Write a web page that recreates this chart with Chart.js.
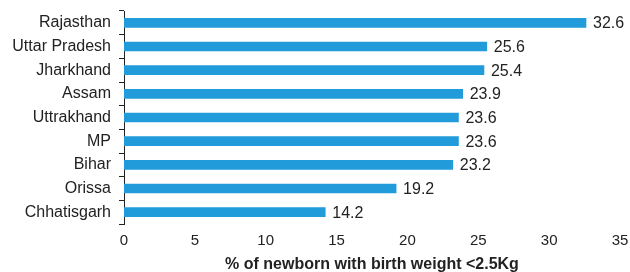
<!DOCTYPE html>
<html>
<head>
<meta charset="utf-8">
<script src="https://cdn.jsdelivr.net/npm/chart.js@4/dist/chart.umd.min.js"></script>
<style>
  html, body { margin: 0; padding: 0; background: #fff; }
  #wrap { width: 630px; height: 272px; }
</style>
</head>
<body>
<div id="wrap"><canvas id="lbwChart" width="630" height="272"></canvas></div>
<script>
// States and % of newborns with birth weight < 2.5Kg
const states = ['Rajasthan', 'Uttar Pradesh', 'Jharkhand', 'Assam', 'Uttrakhand', 'MP', 'Bihar', 'Orissa', 'Chhatisgarh'];
const lowBirthWeight = [32.6, 25.6, 25.4, 23.9, 23.6, 23.6, 23.2, 19.2, 14.2];
const xTicks = [0, 5, 10, 15, 20, 25, 30, 35];

const FONT = "'Liberation Sans', Arial, sans-serif";
const TEXT = '#222222';

// Draw value labels to the right of each bar
const valueLabels = {
    id: 'valueLabels',
    afterDatasetsDraw(chart) {
        const ctx = chart.ctx;
        const meta = chart.getDatasetMeta(0);
        ctx.save();
        ctx.font = '16px ' + FONT;
        ctx.fillStyle = TEXT;
        ctx.textAlign = 'left';
        ctx.textBaseline = 'middle';
        meta.data.forEach((bar, i) => {
            ctx.fillText(lowBirthWeight[i].toFixed(1), bar.x + 7, bar.y + 1);
        });
        ctx.restore();
    }
};

new Chart(document.getElementById('lbwChart'), {
    type: 'bar',
    data: {
        labels: states,
        datasets: [{
            data: lowBirthWeight,
            backgroundColor: '#219bd9',
            borderWidth: 0,
            barThickness: 9
        }]
    },
    options: {
        indexAxis: 'y',
        responsive: false,
        animation: false,
        layout: {
            padding: { top: 11, right: 10, bottom: 0, left: 0 }
        },
        plugins: {
            legend: { display: false },
            tooltip: { enabled: false }
        },
        scales: {
            x: {
                min: 0,
                max: 35,
                afterBuildTicks: scale => {
                    scale.ticks = xTicks.map(v => ({ value: v }));
                },
                afterFit: scale => {
                    scale.height = 48;
                    scale.paddingLeft = 0;
                    scale.paddingRight = 0;
                },
                grid: { display: false, drawTicks: false },
                border: { display: false },
                ticks: {
                    padding: 8,
                    color: TEXT,
                    font: { size: 15, family: FONT }
                },
                title: {
                    display: true,
                    text: '% of newborn with birth weight <2.5Kg',
                    color: TEXT,
                    font: { size: 16, weight: 'bold', family: FONT },
                    padding: { top: 3, bottom: -2 }
                }
            },
            y: {
                afterFit: scale => {
                    scale.width = 124;
                    scale.paddingTop = 0;
                    scale.paddingBottom = 0;
                },
                grid: {
                    offset: true,
                    drawOnChartArea: false,
                    tickLength: 5,
                    color: TEXT,
                    lineWidth: 1
                },
                border: { display: true, color: TEXT, width: 1 },
                ticks: {
                    padding: 8,
                    color: TEXT,
                    font: { size: 16, family: FONT }
                }
            }
        }
    },
    plugins: [valueLabels]
});
</script>
</body>
</html>
